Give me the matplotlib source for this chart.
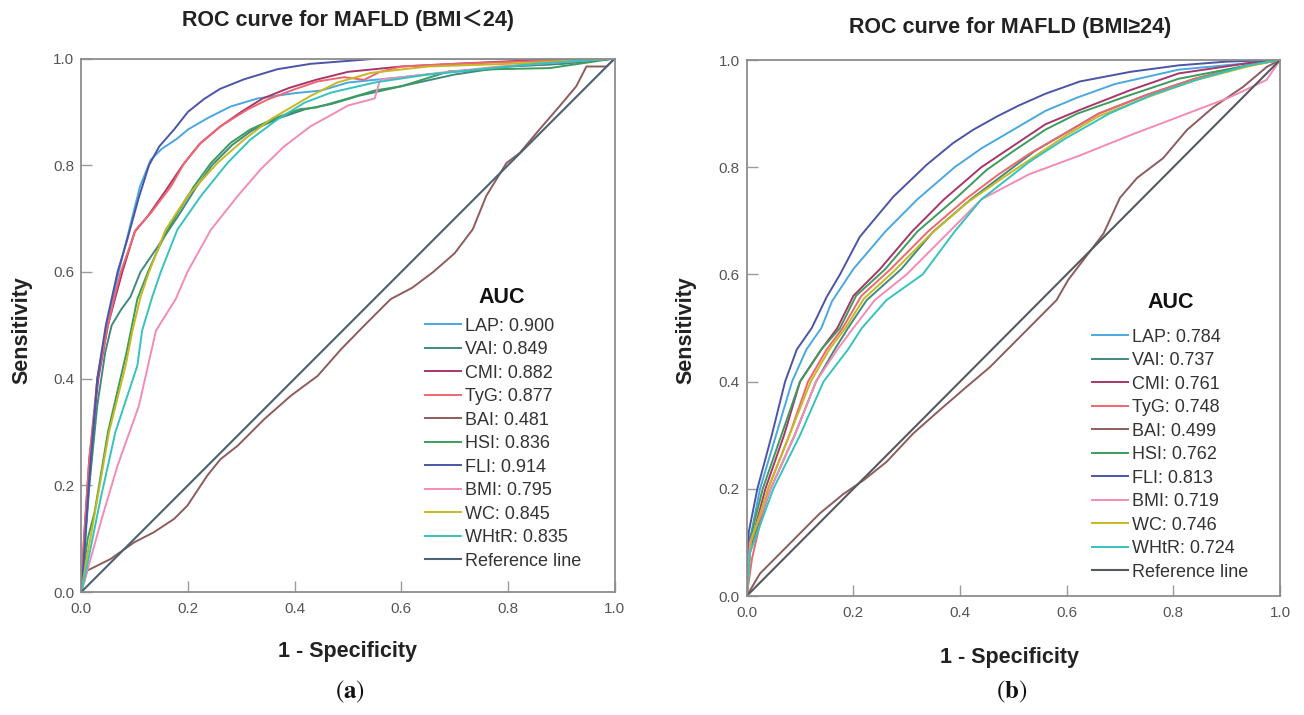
import matplotlib
matplotlib.use("Agg")
import matplotlib.pyplot as plt

plt.rcParams['font.family'] = ['Liberation Sans', 'Noto Sans CJK SC', 'DejaVu Sans']
plt.rcParams['mathtext.fontset'] = 'stix'

# ---------------- data ----------------
names = ["LAP", "VAI", "CMI", "TyG", "BAI", "HSI", "FLI", "BMI", "WC", "WHtR"]
auc_a = ["0.900", "0.849", "0.882", "0.877", "0.481", "0.836", "0.914", "0.795", "0.845", "0.835"]
auc_b = ["0.784", "0.737", "0.761", "0.748", "0.499", "0.762", "0.813", "0.719", "0.746", "0.724"]
colors = ["#4aa8e0", "#3f8a7e", "#a8366a", "#f06670", "#8e5c5c", "#3c9c5c",
          "#4a55a8", "#f28cb6", "#c8b820", "#35c2c0"]
ref_color_a = "#4a6272"
ref_color_b = "#555a5e"

# panel (a): BMI < 24  (fpr, tpr)
LAP_a_fpr = [0, 0.005, 0.015, 0.03, 0.048, 0.07, 0.09, 0.11, 0.13, 0.15, 0.18, 0.2, 0.24, 0.28, 0.33, 0.4, 0.45, 0.5, 0.6, 0.7, 0.8, 0.9, 1]
LAP_a_tpr = [0, 0.06, 0.2, 0.4, 0.5, 0.6, 0.68, 0.76, 0.81, 0.83, 0.85, 0.867, 0.89, 0.91, 0.925, 0.935, 0.94, 0.955, 0.965, 0.975, 0.985, 0.99, 1]
VAI_a_fpr = [0, 0.005, 0.015, 0.03, 0.045, 0.057, 0.075, 0.092, 0.111, 0.143, 0.165, 0.185, 0.215, 0.245, 0.283, 0.32, 0.37, 0.42, 0.47, 0.52, 0.6, 0.7, 0.8, 0.9, 1]
VAI_a_tpr = [0, 0.08, 0.2, 0.35, 0.45, 0.5, 0.53, 0.553, 0.6, 0.647, 0.68, 0.71, 0.758, 0.8, 0.838, 0.865, 0.888, 0.905, 0.915, 0.93, 0.948, 0.97, 0.985, 0.99, 1]
CMI_a_fpr = [0, 0.005, 0.015, 0.032, 0.05, 0.063, 0.077, 0.1, 0.125, 0.16, 0.19, 0.222, 0.26, 0.3, 0.34, 0.39, 0.44, 0.5, 0.6, 0.7, 0.85, 1]
CMI_a_tpr = [0, 0.1, 0.25, 0.4, 0.5, 0.549, 0.6, 0.675, 0.705, 0.755, 0.8, 0.84, 0.872, 0.9, 0.925, 0.945, 0.96, 0.975, 0.985, 0.99, 0.997, 1]
TyG_a_fpr = [0, 0.005, 0.015, 0.03, 0.05, 0.061, 0.074, 0.102, 0.13, 0.168, 0.193, 0.224, 0.261, 0.311, 0.349, 0.399, 0.443, 0.493, 0.53, 0.56, 0.6, 0.7, 0.85, 1]
TyG_a_tpr = [0, 0.1, 0.25, 0.399, 0.5, 0.549, 0.6, 0.679, 0.71, 0.76, 0.804, 0.842, 0.873, 0.904, 0.923, 0.942, 0.957, 0.965, 0.96, 0.975, 0.985, 0.99, 0.995, 1]
BAI_a_fpr = [0, 0.011, 0.055, 0.099, 0.136, 0.174, 0.199, 0.236, 0.261, 0.293, 0.343, 0.393, 0.443, 0.487, 0.53, 0.58, 0.62, 0.66, 0.7, 0.734, 0.759, 0.797, 0.822, 0.859, 0.897, 0.928, 0.947, 0.985, 1]
BAI_a_tpr = [0, 0.04, 0.062, 0.093, 0.112, 0.137, 0.162, 0.218, 0.249, 0.274, 0.324, 0.368, 0.405, 0.455, 0.499, 0.549, 0.57, 0.6, 0.635, 0.68, 0.742, 0.804, 0.823, 0.867, 0.911, 0.948, 0.985, 0.985, 1]
HSI_a_fpr = [0, 0.004, 0.012, 0.025, 0.05, 0.085, 0.105, 0.125, 0.145, 0.162, 0.18, 0.211, 0.243, 0.28, 0.317, 0.368, 0.41, 0.44, 0.5, 0.55, 0.6, 0.69, 0.78, 0.878, 1]
HSI_a_tpr = [0, 0.04, 0.1, 0.15, 0.3, 0.45, 0.549, 0.6, 0.645, 0.679, 0.71, 0.76, 0.804, 0.842, 0.867, 0.89, 0.905, 0.908, 0.925, 0.94, 0.948, 0.976, 0.98, 0.982, 1]
FLI_a_fpr = [0, 0.004, 0.014, 0.03, 0.046, 0.068, 0.086, 0.108, 0.127, 0.146, 0.174, 0.2, 0.23, 0.26, 0.305, 0.368, 0.43, 0.557, 1]
FLI_a_tpr = [0, 0.05, 0.2, 0.4, 0.5, 0.6, 0.66, 0.74, 0.8, 0.835, 0.867, 0.9, 0.924, 0.943, 0.961, 0.98, 0.99, 1, 1]
BMI_a_fpr = [0, 0.014, 0.04, 0.068, 0.108, 0.14, 0.177, 0.199, 0.243, 0.293, 0.336, 0.38, 0.43, 0.47, 0.5, 0.55, 0.56, 0.67, 0.784, 1]
BMI_a_tpr = [0, 0.05, 0.143, 0.237, 0.349, 0.49, 0.549, 0.6, 0.679, 0.742, 0.792, 0.835, 0.873, 0.895, 0.912, 0.925, 0.96, 0.973, 0.985, 1]
WC_a_fpr = [0, 0.008, 0.03, 0.052, 0.083, 0.096, 0.111, 0.127, 0.158, 0.199, 0.255, 0.305, 0.355, 0.43, 0.48, 0.543, 0.65, 0.8, 1]
WC_a_tpr = [0, 0.05, 0.174, 0.3, 0.424, 0.49, 0.553, 0.6, 0.679, 0.742, 0.804, 0.848, 0.886, 0.93, 0.955, 0.973, 0.985, 0.99, 1]
WHtR_a_fpr = [0, 0.011, 0.036, 0.064, 0.105, 0.114, 0.133, 0.149, 0.18, 0.224, 0.274, 0.317, 0.368, 0.418, 0.468, 0.55, 0.65, 0.75, 0.85, 1]
WHtR_a_tpr = [0, 0.05, 0.174, 0.3, 0.424, 0.49, 0.553, 0.6, 0.679, 0.742, 0.804, 0.848, 0.886, 0.917, 0.936, 0.955, 0.97, 0.98, 0.99, 1]

# panel (b): BMI >= 24  (fpr, tpr)
LAP_b_fpr = [0, 0.005, 0.025, 0.055, 0.085, 0.112, 0.14, 0.16, 0.2, 0.26, 0.32, 0.39, 0.44, 0.5, 0.56, 0.62, 0.69, 0.81, 0.94, 1]
LAP_b_tpr = [0, 0.1, 0.2, 0.3, 0.4, 0.46, 0.5, 0.55, 0.61, 0.68, 0.74, 0.8, 0.835, 0.87, 0.905, 0.93, 0.955, 0.982, 0.994, 1]
VAI_b_fpr = [0, 0.007, 0.045, 0.09, 0.13, 0.165, 0.19, 0.225, 0.29, 0.35, 0.42, 0.48, 0.54, 0.6, 0.66, 0.75, 0.84, 0.94, 1]
VAI_b_tpr = [0, 0.09, 0.2, 0.3, 0.4, 0.46, 0.5, 0.552, 0.61, 0.68, 0.74, 0.785, 0.83, 0.865, 0.9, 0.935, 0.965, 0.99, 1]
CMI_b_fpr = [0, 0.006, 0.035, 0.07, 0.1, 0.14, 0.17, 0.2, 0.25, 0.31, 0.37, 0.44, 0.5, 0.56, 0.625, 0.72, 0.81, 0.94, 1]
CMI_b_tpr = [0, 0.09, 0.2, 0.3, 0.4, 0.46, 0.5, 0.56, 0.61, 0.68, 0.74, 0.8, 0.84, 0.88, 0.907, 0.944, 0.975, 0.994, 1]
TyG_b_fpr = [0, 0.01, 0.04, 0.08, 0.115, 0.15, 0.18, 0.215, 0.27, 0.34, 0.41, 0.47, 0.53, 0.6, 0.66, 0.75, 0.84, 0.94, 1]
TyG_b_tpr = [0, 0.07, 0.2, 0.3, 0.4, 0.46, 0.5, 0.56, 0.61, 0.68, 0.74, 0.785, 0.825, 0.865, 0.9, 0.935, 0.965, 0.99, 1]
BAI_b_fpr = [0, 0.025, 0.069, 0.1, 0.137, 0.181, 0.219, 0.262, 0.312, 0.362, 0.412, 0.456, 0.5, 0.544, 0.581, 0.603, 0.669, 0.7, 0.732, 0.781, 0.825, 0.875, 0.931, 0.975, 1]
BAI_b_tpr = [0, 0.042, 0.086, 0.117, 0.154, 0.19, 0.216, 0.25, 0.303, 0.347, 0.39, 0.427, 0.471, 0.515, 0.552, 0.59, 0.676, 0.743, 0.78, 0.817, 0.869, 0.912, 0.95, 0.987, 1]
HSI_b_fpr = [0, 0.005, 0.03, 0.065, 0.1, 0.14, 0.175, 0.205, 0.26, 0.32, 0.39, 0.45, 0.5, 0.56, 0.62, 0.72, 0.81, 0.94, 1]
HSI_b_tpr = [0, 0.1, 0.2, 0.3, 0.4, 0.46, 0.5, 0.56, 0.61, 0.68, 0.74, 0.795, 0.83, 0.87, 0.9, 0.935, 0.965, 0.99, 1]
FLI_b_fpr = [0, 0.004, 0.02, 0.047, 0.072, 0.094, 0.122, 0.15, 0.175, 0.212, 0.275, 0.338, 0.387, 0.425, 0.47, 0.51, 0.56, 0.625, 0.72, 0.81, 0.9, 1]
FLI_b_tpr = [0, 0.12, 0.2, 0.3, 0.4, 0.46, 0.5, 0.558, 0.6, 0.67, 0.745, 0.805, 0.845, 0.87, 0.895, 0.915, 0.937, 0.96, 0.978, 0.99, 0.997, 1]
BMI_b_fpr = [0, 0.006, 0.045, 0.09, 0.13, 0.17, 0.2, 0.24, 0.3, 0.37, 0.44, 0.53, 0.625, 0.72, 0.81, 0.905, 0.975, 1]
BMI_b_tpr = [0, 0.1, 0.2, 0.3, 0.4, 0.46, 0.5, 0.552, 0.6, 0.67, 0.74, 0.787, 0.822, 0.86, 0.894, 0.93, 0.963, 1]
WC_b_fpr = [0, 0.008, 0.04, 0.08, 0.12, 0.155, 0.185, 0.22, 0.275, 0.345, 0.415, 0.48, 0.54, 0.6, 0.66, 0.75, 0.84, 0.94, 1]
WC_b_tpr = [0, 0.1, 0.2, 0.3, 0.4, 0.46, 0.5, 0.555, 0.605, 0.675, 0.735, 0.78, 0.82, 0.86, 0.895, 0.93, 0.962, 0.988, 1]
WHtR_b_fpr = [0, 0.006, 0.05, 0.1, 0.144, 0.19, 0.216, 0.262, 0.33, 0.39, 0.44, 0.53, 0.6, 0.68, 0.76, 0.85, 0.94, 1]
WHtR_b_tpr = [0, 0.08, 0.2, 0.3, 0.4, 0.46, 0.5, 0.552, 0.6, 0.68, 0.74, 0.81, 0.855, 0.9, 0.935, 0.965, 0.99, 1]

curves_a = [(LAP_a_fpr, LAP_a_tpr), (VAI_a_fpr, VAI_a_tpr), (CMI_a_fpr, CMI_a_tpr),
            (TyG_a_fpr, TyG_a_tpr), (BAI_a_fpr, BAI_a_tpr), (HSI_a_fpr, HSI_a_tpr),
            (FLI_a_fpr, FLI_a_tpr), (BMI_a_fpr, BMI_a_tpr), (WC_a_fpr, WC_a_tpr),
            (WHtR_a_fpr, WHtR_a_tpr)]
curves_b = [(LAP_b_fpr, LAP_b_tpr), (VAI_b_fpr, VAI_b_tpr), (CMI_b_fpr, CMI_b_tpr),
            (TyG_b_fpr, TyG_b_tpr), (BAI_b_fpr, BAI_b_tpr), (HSI_b_fpr, HSI_b_tpr),
            (FLI_b_fpr, FLI_b_tpr), (BMI_b_fpr, BMI_b_tpr), (WC_b_fpr, WC_b_tpr),
            (WHtR_b_fpr, WHtR_b_tpr)]
ticks = [0.0, 0.2, 0.4, 0.6, 0.8, 1.0]
tick_labels = ["0.0", "0.2", "0.4", "0.6", "0.8", "1.0"]

# ---------------- figure ----------------
W, H = 1304, 715
fig = plt.figure(figsize=(W / 100, H / 100), dpi=100)
fig.patch.set_facecolor("white")

def px_axes(x0, x1, y_top, y_bot):
    return fig.add_axes([x0 / W, 1 - y_bot / H, (x1 - x0) / W, (y_bot - y_top) / H])

ax_a = px_axes(81.3, 614.7, 58.5, 592.0)
ax_b = px_axes(746.7, 1280.0, 60.0, 596.0)

def style_axes(ax):
    ax.set_xlim(0, 1)
    ax.set_ylim(0, 1)
    for s in ax.spines.values():
        s.set_color("#8c8c8c")
        s.set_linewidth(1.3)
    ax.set_xticks(ticks)
    ax.set_yticks(ticks)
    ax.set_xticklabels(tick_labels)
    ax.set_yticklabels(tick_labels)
    ax.tick_params(direction="in", length=8, width=1.0, color="#9a9a9a",
                   labelcolor="#555555", labelsize=11, pad=5)
    ax.tick_params(axis="x", pad=7)

def draw_panel(ax, curves, aucs, ref_color, leg_anchor):
    handles = []
    labels = []
    for (fx, ty), nm, au, c in zip(curves, names, aucs, colors):
        ln, = ax.plot(fx, ty, color=c, lw=1.4, solid_joinstyle="miter")
        handles.append(ln)
        labels.append(f"{nm}: {au}")
    rl, = ax.plot([0, 1], [0, 1], color=ref_color, lw=1.5)
    handles.append(rl)
    labels.append("Reference line")
    leg = ax.legend(handles, labels, loc="upper left",
                    bbox_to_anchor=leg_anchor, frameon=False, fontsize=13,
                    handlelength=2.0, handletextpad=0.2, labelspacing=0.36,
                    borderpad=0, borderaxespad=0)
    for t in leg.get_texts():
        t.set_color("#333333")
    style_axes(ax)

draw_panel(ax_a, curves_a, auc_a, ref_color_a, (0.645, 0.5145))
draw_panel(ax_b, curves_b, auc_b, ref_color_b, (0.648, 0.499))

# legend headers
fig.text(502 / W, 1 - 297 / H, "AUC", ha="center", va="center",
         fontsize=15.5, fontweight="bold", color="#111111")
fig.text(1171 / W, 1 - 303 / H, "AUC", ha="center", va="center",
         fontsize=15.5, fontweight="bold", color="#111111")

# titles and labels
fig.text(348 / W, 1 - 20 / H, "ROC curve for MAFLD (BMI＜24)", ha="center", va="center",
         fontsize=15.5, fontweight="bold", color="#222222",
         family=["Liberation Sans", "Noto Sans CJK SC"])
fig.text(1010 / W, 1 - 28 / H, "ROC curve for MAFLD (BMI≥24)", ha="center", va="center",
         fontsize=15.5, fontweight="bold", color="#222222")
fig.text(22 / W, 1 - 330 / H, "Sensitivity", rotation=90, ha="center", va="center",
         fontsize=15.5, fontweight="bold", color="#222222")
fig.text(686 / W, 1 - 330 / H, "Sensitivity", rotation=90, ha="center", va="center",
         fontsize=15.5, fontweight="bold", color="#222222")
fig.text(348 / W, 1 - 652 / H, "1 - Specificity", ha="center", va="center",
         fontsize=15.5, fontweight="bold", color="#222222")
fig.text(1010 / W, 1 - 657 / H, "1 - Specificity", ha="center", va="center",
         fontsize=15.5, fontweight="bold", color="#222222")
fig.text(350 / W, 1 - 692 / H, r"$(\mathbf{a})$", ha="center", va="center",
         fontsize=18, color="#111111")
fig.text(1012 / W, 1 - 692 / H, r"$(\mathbf{b})$", ha="center", va="center",
         fontsize=18, color="#111111")

fig.savefig("out.png", dpi=100, facecolor="white")
